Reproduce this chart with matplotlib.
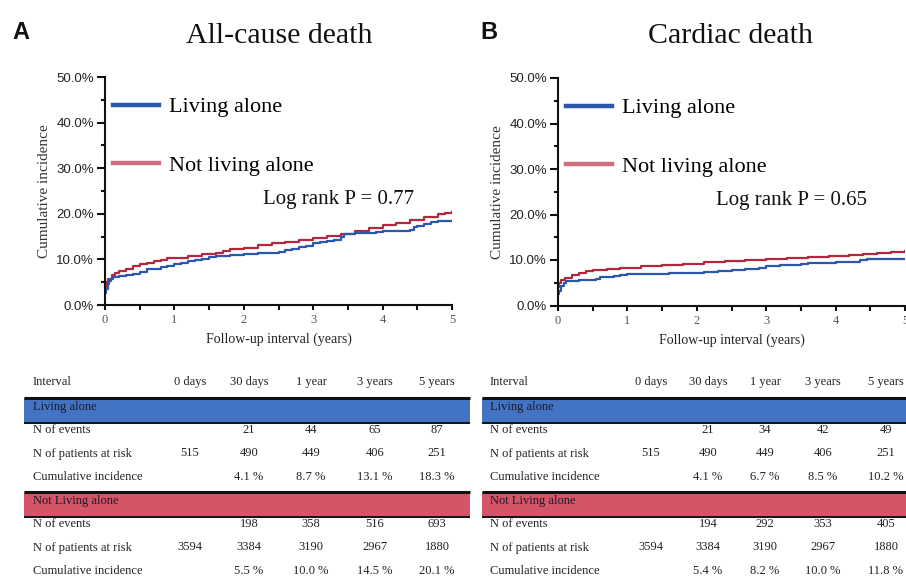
import matplotlib
matplotlib.use("Agg")
import matplotlib.pyplot as plt
from matplotlib.lines import Line2D
from matplotlib.patches import Rectangle
from matplotlib.ticker import MultipleLocator, FuncFormatter

# ---- curve data (years, cumulative incidence %) ----
a_alone_t = [0, 0.02, 0.04, 0.06, 0.09, 0.12, 0.2, 0.3, 0.4, 0.5, 0.6, 0.7, 0.8, 0.9, 1.0,
             1.1, 1.2, 1.3, 1.4, 1.5, 1.6, 1.8, 2.0, 2.2, 2.4, 2.5, 2.6, 2.7, 2.8, 2.9,
             3.0, 3.1, 3.2, 3.3, 3.4, 3.45, 3.6, 3.8, 3.9, 4.0, 4.2, 4.4, 4.45, 4.5, 4.6,
             4.7, 4.8, 5.0]
a_alone_y = [2.6, 3.5, 4.6, 5.3, 5.8, 6.2, 6.4, 6.6, 6.8, 7.2, 7.8, 8.0, 8.3, 8.6, 9.0,
             9.3, 9.6, 9.9, 10.0, 10.6, 10.8, 11.0, 11.1, 11.3, 11.5, 11.7, 12.0, 12.2, 12.7, 13.0,
             13.5, 13.8, 14.0, 14.3, 15.0, 15.5, 15.7, 15.8, 16.0, 16.2, 16.3, 16.5, 17.0, 17.4, 17.8,
             18.2, 18.5, 18.5]
a_not_t = [0, 0.02, 0.05, 0.1, 0.15, 0.2, 0.3, 0.4, 0.5, 0.6, 0.7, 0.8, 0.9, 1.0, 1.2, 1.4,
           1.6, 1.7, 1.8, 2.0, 2.2, 2.4, 2.6, 2.8, 3.0, 3.2, 3.4, 3.6, 3.8, 4.0, 4.2, 4.4,
           4.6, 4.8, 4.9, 5.0]
a_not_y = [4.0, 5.0, 5.8, 6.5, 7.0, 7.4, 8.0, 8.6, 9.0, 9.3, 9.6, 9.9, 10.2, 10.4, 10.8, 11.1,
           11.4, 11.8, 12.2, 12.6, 13.1, 13.5, 13.9, 14.2, 14.6, 15.1, 15.6, 16.2, 16.9, 17.5, 18.0, 18.6,
           19.2, 19.9, 20.2, 20.3]

b_alone_t = [0, 0.02, 0.05, 0.08, 0.12, 0.3, 0.5, 0.55, 0.6, 0.8, 0.9, 1.0, 1.3, 1.6, 1.9,
             2.1, 2.3, 2.5, 2.7, 2.9, 3.0, 3.2, 3.4, 3.5, 3.6, 3.8, 4.0, 4.3, 4.35, 4.45, 5.0]
b_alone_y = [2.5, 3.1, 4.3, 5.0, 5.4, 5.5, 5.5, 5.9, 6.3, 6.5, 6.8, 6.9, 7.0, 7.1, 7.2,
             7.4, 7.6, 7.8, 8.1, 8.3, 8.7, 8.8, 8.9, 9.1, 9.3, 9.4, 9.5, 9.5, 10.0, 10.3, 10.3]
b_not_t = [0, 0.02, 0.05, 0.1, 0.2, 0.3, 0.4, 0.5, 0.7, 0.9, 1.2, 1.5, 1.8, 2.1, 2.4, 2.7,
           3.0, 3.3, 3.6, 3.9, 4.2, 4.4, 4.6, 4.8, 5.0]
b_not_y = [4.0, 5.0, 5.5, 6.0, 6.6, 7.1, 7.5, 7.8, 8.0, 8.3, 8.6, 8.9, 9.2, 9.5, 9.8, 10.0,
           10.2, 10.4, 10.6, 10.9, 11.1, 11.4, 11.6, 11.8, 12.0]

titles = ["All-cause death", "Cardiac death"]
panel_letters = ["A", "B"]
p_values = ["Log rank P = 0.77", "Log rank P = 0.65"]
group_names = ["Living alone", "Not living alone"]

# ---- table data ----
intervals = ["0 days", "30 days", "1 year", "3 years", "5 years"]
row_names = ["N of events", "N of patients at risk", "Cumulative incidence"]
a_alone_rows = [["", "21", "44", "65", "87"],
                ["515", "490", "449", "406", "251"],
                ["", "4.1 %", "8.7 %", "13.1 %", "18.3 %"]]
a_not_rows = [["", "198", "358", "516", "693"],
              ["3594", "3384", "3190", "2967", "1880"],
              ["", "5.5 %", "10.0 %", "14.5 %", "20.1 %"]]
b_alone_rows = [["", "21", "34", "42", "49"],
                ["515", "490", "449", "406", "251"],
                ["", "4.1 %", "6.7 %", "8.5 %", "10.2 %"]]
b_not_rows = [["", "194", "292", "353", "405"],
              ["3594", "3384", "3190", "2967", "1880"],
              ["", "5.4 %", "8.2 %", "10.0 %", "11.8 %"]]

blue = "#2b57ad"
red = "#b3283f"
band_blue = "#4374c3"
band_red = "#d45468"
serif = ["Liberation Serif", "DejaVu Serif"]
sans = ["Liberation Sans", "DejaVu Sans"]

W, H = 906, 582
fig = plt.figure(figsize=(W / 100, H / 100), dpi=100)


def px_axes(left, top, right, bottom):
    return fig.add_axes([left / W, 1 - bottom / H, (right - left) / W, (bottom - top) / H])


axA = px_axes(105, 77, 452, 305)
axB = px_axes(558, 78, 905, 305.5)

curves = [(a_alone_t, a_alone_y, a_not_t, a_not_y), (b_alone_t, b_alone_y, b_not_t, b_not_y)]

for i, ax in enumerate([axA, axB]):
    t1, y1, t2, y2 = curves[i]
    ax.step(t2, y2, where="post", color=red, lw=1.6)
    ax.step(t1, y1, where="post", color=blue, lw=1.6)
    ax.set_xlim(0, 5)
    ax.set_ylim(0, 50)
    for s in ["top", "right"]:
        ax.spines[s].set_visible(False)
    for s in ["left", "bottom"]:
        ax.spines[s].set_linewidth(1.5)
        ax.spines[s].set_color("#111111")
    ax.xaxis.set_major_locator(MultipleLocator(1))
    ax.xaxis.set_minor_locator(MultipleLocator(0.5))
    ax.yaxis.set_major_locator(MultipleLocator(10))
    ax.yaxis.set_minor_locator(MultipleLocator(5))
    ax.yaxis.set_major_formatter(FuncFormatter(lambda v, p: "%.1f%%" % v))
    ax.tick_params(which="both", direction="out", width=1.5, color="#111111")
    ax.tick_params(axis="x", which="both", length=3.5)
    ax.tick_params(axis="y", which="major", length=5.5)
    ax.tick_params(axis="y", which="minor", length=3)
    ax.tick_params(axis="y", labelsize=9.5, pad=2.5, labelcolor="#222222")
    ax.tick_params(axis="x", labelsize=9, pad=3, labelcolor="#555555")
    for lab in ax.get_xticklabels():
        lab.set_family(serif)
    for lab in ax.get_yticklabels():
        lab.set_family(sans)
    ax.set_ylabel("Cumulative incidence", family=serif, fontsize=11, color="#333333", labelpad=4)
    ax.set_xlabel("Follow-up interval (years)", family=serif, fontsize=10, color="#222222", labelpad=5)

    handles = [Line2D([], [], color=blue, lw=3.2), Line2D([], [], color="#d27080", lw=3.2)]
    ax.legend(handles, group_names, loc="upper left", bbox_to_anchor=(0.022, 0.913),
              frameon=False, borderpad=0, borderaxespad=0, handlelength=2.1,
              handletextpad=0.45, labelspacing=1.7, prop={"family": serif, "size": 16})
    ax.text(0.456, 0.462, p_values[i], transform=ax.transAxes, family=serif,
            fontsize=15, va="center", ha="left", color="#111111")

# ---- overlay for titles and tables (pixel coordinates) ----
ov = fig.add_axes([0, 0, 1, 1])
ov.set_xlim(0, W)
ov.set_ylim(H, 0)
ov.axis("off")

title_x = [279, 730]
letter_x = [21, 489]
for i in range(2):
    ov.text(title_x[i], 43, titles[i], family=serif, fontsize=21.5, ha="center",
            va="baseline", color="#111111")
    ov.text(letter_x[i], 39, panel_letters[i], family=sans, fontsize=17, weight="bold",
            ha="center", va="baseline", color="#111111")

tables = [
    dict(x0=24, x1=470, lab=33, cols=[190, 249, 311, 375, 437], alone=a_alone_rows, notl=a_not_rows),
    dict(x0=482, x1=906, lab=490, cols=[651, 708, 765, 823, 886], alone=b_alone_rows, notl=b_not_rows),
]
fs = 9
for tb in tables:
    ov.text(tb["lab"], 382, "Interval", family=serif, fontsize=fs, va="center", color="#222222")
    for c, name in zip(tb["cols"], intervals):
        ov.text(c, 382, name, family=serif, fontsize=fs, va="center", ha="center", color="#222222")
    for band_top, color, label, rows in [(398, band_blue, "Living alone", tb["alone"]),
                                          (492, band_red, "Not Living alone", tb["notl"])]:
        ov.add_patch(Rectangle((tb["x0"], band_top), tb["x1"] - tb["x0"], 24,
                               facecolor=color, edgecolor="none"))
        ov.plot([tb["x0"], tb["x1"]], [band_top - 0.5, band_top - 0.5], color="#111111", lw=2.2,
                solid_capstyle="butt")
        ov.plot([tb["x0"], tb["x1"]], [band_top + 24.5, band_top + 24.5], color="#111111", lw=1.4,
                solid_capstyle="butt")
        ov.text(tb["lab"], band_top + 9, label, family=serif, fontsize=fs, va="center",
                color="#1a1a2a")
        for r, (rname, vals) in enumerate(zip(row_names, rows)):
            y = band_top + 32 + r * 23.5
            ov.text(tb["lab"], y, rname, family=serif, fontsize=fs, va="center", color="#222222")
            for c, v in zip(tb["cols"], vals):
                ov.text(c, y, v, family=serif, fontsize=fs, va="center", ha="center",
                        color="#222222")

fig.savefig("out.png", dpi=100)
